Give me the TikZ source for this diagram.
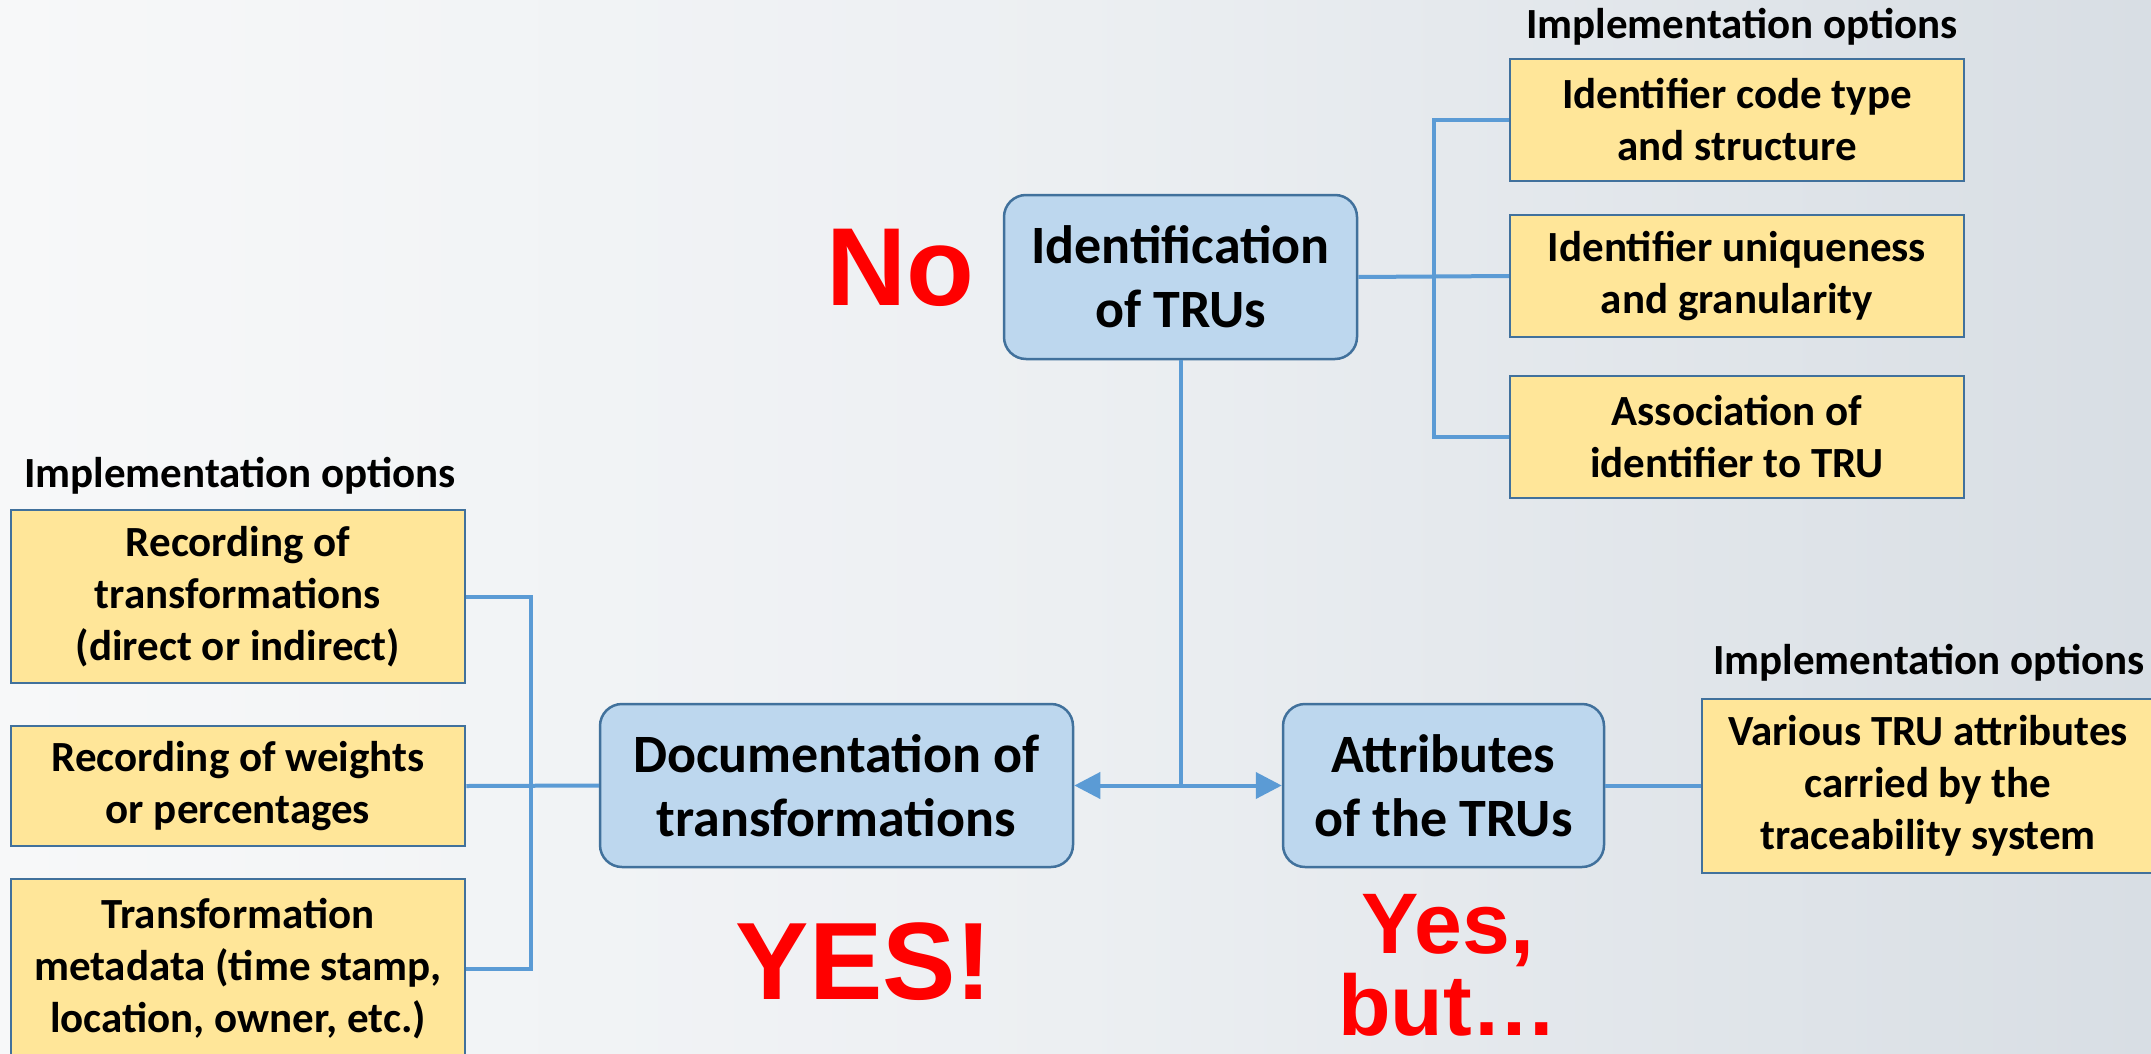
\documentclass[tikz,border=0pt]{standalone}
\usepackage{fontspec}
\setmainfont{Carlito}
\newfontfamily\redfont{Liberation Sans}
\usetikzlibrary{arrows.meta}
\definecolor{bgL}{HTML}{F7F8F9}
\definecolor{bgM}{HTML}{ECEFF2}
\definecolor{bgR}{HTML}{D8DEE4}
\definecolor{optfill}{HTML}{FFE699}
\definecolor{boxline}{HTML}{41719C}
\definecolor{mainfill}{HTML}{BDD7EE}
\definecolor{conn}{HTML}{5B9BD5}
\definecolor{redtxt}{HTML}{FF0000}
\tikzset{
  opttext/.style={font=\bfseries\fontsize{43}{52}\selectfont, align=center, inner sep=0pt},
  optbox/.style={draw=boxline, line width=2.5pt, fill=optfill, inner sep=0pt, align=center,
     font=\bfseries\fontsize{43}{52}\selectfont},
  mainbox/.style={draw=boxline, line width=2.5pt, fill=mainfill, rounded corners=22pt, inner sep=0pt, align=center,
     font=\bfseries\fontsize{54}{64}\selectfont},
  optlabel/.style={font=\bfseries\fontsize{43}{50}\selectfont, inner sep=0pt},
  redlabel/.style={text=redtxt, inner sep=0pt, align=center},
  wire/.style={draw=conn, line width=4pt},
  tip/.style={-{Triangle[length=26pt,width=26pt]}}
}
\begin{document}
\begin{tikzpicture}[x=1pt,y=-1pt]
\useasboundingbox (0,0) rectangle (2151,1054);
\shade[left color=bgL, right color=bgM, draw=none] (0,0) rectangle (1076,1054);
\shade[left color=bgM, right color=bgR, draw=none] (1075,0) rectangle (2151,1054);

% left option boxes
\node[optlabel] (optL) at (240,476) {Implementation options};
\node[optbox, minimum width=454pt, minimum height=173pt] (l1) at (238,596.5) {Recording of\\transformations\\(direct or indirect)};
\node[optbox, minimum width=454pt, minimum height=120pt] (l2) at (238,786) {Recording of weights\\or percentages};
\node[optbox, minimum width=454pt, minimum height=180pt] (l3box) at (238,969) {};
\node[opttext] (l3) at (238,969) {Transformation\\metadata (time stamp,\\location, owner, etc.)};

% main boxes
\node[mainbox, minimum width=473pt, minimum height=163pt] (doc) at (836.5,785.5) {Documentation of\\transformations};
\node[mainbox, minimum width=321pt, minimum height=163pt] (attr) at (1443.5,785.5) {Attributes\\of the TRUs};
\node[mainbox, minimum width=353pt, minimum height=164pt] (ident) at (1180.5,277) {Identification\\of TRUs};

% right top option boxes
\node[optlabel] (optT) at (1742,27) {Implementation options};
\node[optbox, minimum width=454pt, minimum height=122pt] (r1) at (1737,120) {Identifier code type\\and structure};
\node[optbox, minimum width=454pt, minimum height=122pt] (r2) at (1737,276) {Identifier uniqueness\\and granularity};
\node[optbox, minimum width=454pt, minimum height=122pt] (r3) at (1737,437) {Association of\\identifier to TRU};

% right bottom option box
\node[optlabel] (optR) at (1929,663) {Implementation options};
\node[optbox, minimum width=468pt, minimum height=174pt] (var) at (1936,786) {};
\node[opttext] (vartxt) at (1928,786) {Various TRU attributes\\carried by the\\traceability system};

% red labels
\node[redlabel, font=\redfont\bfseries\fontsize{111}{111}\selectfont] (no) at (900,268) {No};
\node[redlabel, font=\redfont\bfseries\fontsize{110}{110}\selectfont] (yes) at (864,962) {YES!};
\node[redlabel, font=\redfont\bfseries\fontsize{86}{82}\selectfont, anchor=base] (yes2) at (1448,953) {Yes,};
\node[redlabel, font=\redfont\bfseries\fontsize{86}{82}\selectfont, anchor=base] (but) at (1448,1035) {but…};

% connectors
\coordinate (lb) at (531,786);
\draw[wire] (l1.east) -- (l1.east -| lb) -- (l3box.east -| lb) -- (l3box.east);
\draw[wire] (l2.east) -- (doc.west);
\coordinate (j) at (ident.south |- doc.east);
\draw[wire] (ident.south) -- (j);
\draw[wire, tip] (j) -- (doc.east);
\draw[wire, tip] (j) -- (attr.west);
\draw[wire] (attr.east) -- (attr.east -| var.west);
\coordinate (rb) at (1434,277);
\draw[wire] (ident.east) -- (r2.west);
\draw[wire] (r1.west) -- (r1.west -| rb) -- (r3.west -| rb) -- (r3.west);
\end{tikzpicture}
\end{document}
